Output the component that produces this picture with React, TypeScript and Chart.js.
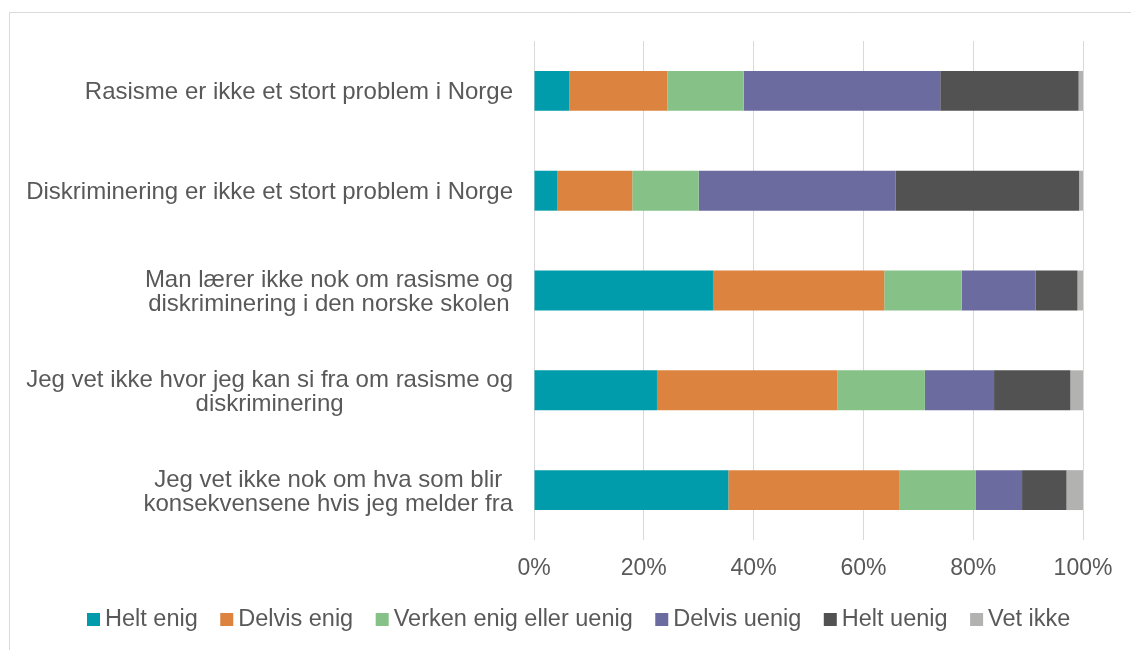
import React, { useEffect, useRef } from "react";
import { Chart, registerables } from "chart.js";

Chart.register(...registerables);

// ---- Data ----
const categories: string[][] = [
  ["Rasisme er ikke et stort problem i Norge"],
  ["Diskriminering er ikke et stort problem i Norge"],
  ["Man lærer ikke nok om rasisme og", "diskriminering i den norske skolen"],
  ["Jeg vet ikke hvor jeg kan si fra om rasisme og", "diskriminering"],
  ["Jeg vet ikke nok om hva som blir", "konsekvensene hvis jeg melder fra"],
];

const seriesNames = [
  "Helt enig",
  "Delvis enig",
  "Verken enig eller uenig",
  "Delvis uenig",
  "Helt uenig",
  "Vet ikke",
];

const heltEnig = [6.4, 4.2, 32.6, 22.4, 35.4];
const delvisEnig = [17.9, 13.7, 31.2, 32.9, 31.1];
const verken = [13.9, 12.1, 14.1, 15.9, 14.0];
const delvisUenig = [35.8, 35.9, 13.5, 12.6, 8.4];
const heltUenig = [25.2, 33.4, 7.6, 13.9, 8.1];
const vetIkke = [0.8, 0.7, 1.0, 2.3, 3.0];

const seriesColors = ["#009CAB", "#DC843F", "#86C287", "#6B6BA0", "#525252", "#B2B3B1"];

const xTickStep = 20;
const xMin = 0;
const xMax = 100;

const FONT = "'Liberation Sans', Arial, sans-serif";
const TEXT_COLOR = "#595959";
const GRID_COLOR = "#D9D9D9";

const framePlugin = {
  id: "frame",
  beforeDraw(chart: any) {
    const ctx = chart.ctx;
    ctx.save();
    ctx.fillStyle = "#ffffff";
    ctx.fillRect(0, 0, chart.width, chart.height);
    ctx.strokeStyle = GRID_COLOR;
    ctx.lineWidth = 1;
    ctx.beginPath();
    ctx.moveTo(9.5, chart.height);
    ctx.lineTo(9.5, 12.5);
    ctx.lineTo(chart.width, 12.5);
    ctx.stroke();
    ctx.restore();
  },
};

const yLabelPlugin = {
  id: "yLabels",
  afterDraw(chart: any) {
    const ctx = chart.ctx;
    const yScale = chart.scales.y;
    const labels = chart.data.labels as string[][];
    const right = chart.chartArea.left - 21;
    const lineH = 24;
    ctx.save();
    ctx.font = `24px ${FONT}`;
    ctx.fillStyle = TEXT_COLOR;
    ctx.textAlign = "center";
    ctx.textBaseline = "alphabetic";
    labels.forEach((lines, i) => {
      const cy = yScale.getPixelForTick(i);
      const widths = lines.map((l) => ctx.measureText(l).width);
      const blockW = Math.max(...widths);
      const cx = right - blockW / 2;
      const n = lines.length;
      lines.forEach((l, j) => {
        const y = cy + (j - (n - 1) / 2) * lineH + 8.5;
        ctx.fillText(l, cx, y);
      });
    });
    ctx.restore();
  },
};

const legendPlugin = {
  id: "customLegend",
  afterDraw(chart: any) {
    const ctx = chart.ctx;
    ctx.save();
    ctx.font = `23.5px ${FONT}`;
    ctx.textBaseline = "alphabetic";
    ctx.textAlign = "left";
    let x = 87;
    const baseline = 626;
    chart.data.datasets.forEach((ds: any) => {
      ctx.fillStyle = ds.backgroundColor;
      ctx.fillRect(x, baseline - 13, 13, 13);
      ctx.fillStyle = TEXT_COLOR;
      ctx.fillText(ds.label, x + 18, baseline);
      x += 18 + ctx.measureText(ds.label).width + 22.5;
    });
    ctx.restore();
  },
};

export default function App() {
  const canvasRef = useRef<HTMLCanvasElement | null>(null);

  useEffect(() => {
    if (!canvasRef.current) return;
    const seriesData = [heltEnig, delvisEnig, verken, delvisUenig, heltUenig, vetIkke];
    const chart = new Chart(canvasRef.current, {
      type: "bar",
      data: {
        labels: categories as any,
        datasets: seriesNames.map((name, i) => ({
          label: name,
          data: seriesData[i],
          backgroundColor: seriesColors[i],
          borderWidth: 0,
          barPercentage: 0.4,
          categoryPercentage: 1.0,
        })),
      },
      options: {
        indexAxis: "y",
        responsive: false,
        animation: false,
        devicePixelRatio: 1,
        layout: { padding: { left: 0, top: 41, right: 48, bottom: 0 } },
        plugins: {
          legend: { display: false },
          tooltip: { enabled: false },
          title: { display: false },
        },
        scales: {
          x: {
            type: "linear",
            stacked: true,
            min: xMin,
            max: xMax,
            border: { display: false },
            grid: { color: GRID_COLOR, lineWidth: 1, drawTicks: false },
            ticks: {
              stepSize: xTickStep,
              padding: 15,
              color: TEXT_COLOR,
              font: { family: FONT, size: 23, lineHeight: 1.2 },
              callback: (v: any) => `${v}%`,
              maxRotation: 0,
            },
            afterFit: (s: any) => {
              s.height = 110;
            },
          },
          y: {
            type: "category",
            stacked: true,
            border: { display: false },
            grid: { display: false, drawTicks: false },
            ticks: { display: false },
            afterFit: (s: any) => {
              s.width = 534;
            },
          },
        },
      },
      plugins: [framePlugin, yLabelPlugin, legendPlugin],
    });
    return () => chart.destroy();
  }, []);

  return (
    <div style={{ position: "absolute", left: 0, top: 0, width: 1131, height: 650, background: "#fff" }}>
      <canvas ref={canvasRef} width={1131} height={650} style={{ display: "block" }} />
    </div>
  );
}
